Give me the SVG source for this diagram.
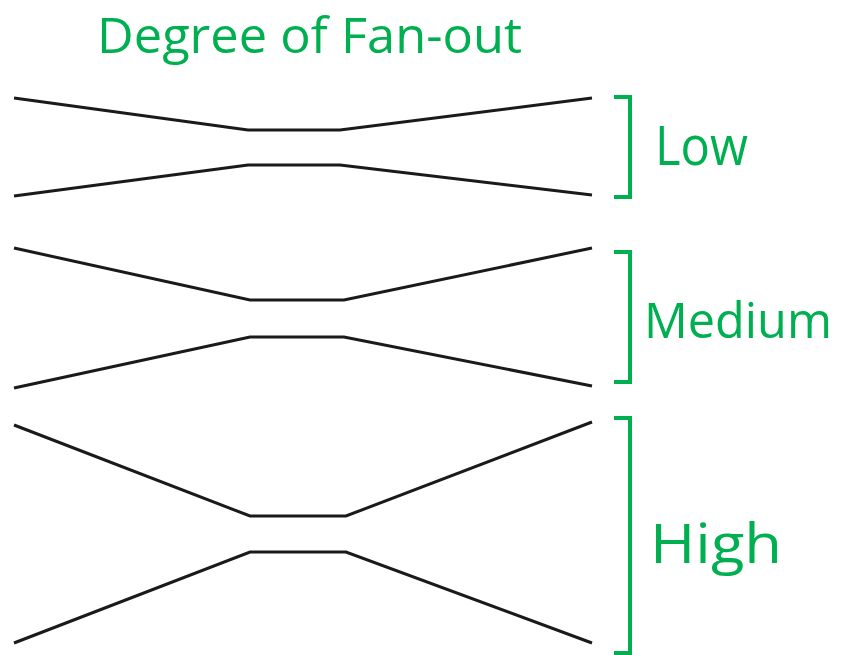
<svg xmlns="http://www.w3.org/2000/svg" width="845" height="655" viewBox="0 0 845 655">
<style>
.ln{fill:none;stroke:#1a1a1a;stroke-width:3;stroke-linejoin:miter}
.br{fill:none;stroke:#00B050;stroke-width:4}
.t{fill:#00B050;font-family:"Open Sans","Liberation Sans",sans-serif}
</style>
<rect width="845" height="655" fill="#fff"/>
<text class="t" x="97" y="53" font-size="50" textLength="425" lengthAdjust="spacingAndGlyphs">Degree of Fan-out</text>
<g id="connectors">
<g id="low-lines">
<polyline class="ln" points="14,98 248,130 340,130 592,98"/>
<polyline class="ln" points="14,196 248,165 340,165 592,195"/>
</g>
<g id="medium-lines">
<polyline class="ln" points="14,248 250,300 344,300 592,248"/>
<polyline class="ln" points="14,388 250,337 344,337 592,386"/>
</g>
<g id="high-lines">
<polyline class="ln" points="14,425 250,516 346,516 592,422"/>
<polyline class="ln" points="14,643 250,552 346,552 592,643"/>
</g>
</g>
<g id="low">
<polyline class="br" points="614,97 630,97 630,197 614,197"/>
<text class="t" x="655" y="165" font-size="55" textLength="93" lengthAdjust="spacingAndGlyphs">Low</text>
</g>
<g id="medium">
<polyline class="br" points="614,252 630,252 630,382 614,382"/>
<text class="t" x="644" y="338" font-size="50" textLength="188" lengthAdjust="spacingAndGlyphs">Medium</text>
</g>
<g id="high">
<polyline class="br" points="614,418 630,418 630,653 614,653"/>
<text class="t" x="650" y="563" font-size="55" textLength="132" lengthAdjust="spacingAndGlyphs">High</text>
</g>
</svg>
